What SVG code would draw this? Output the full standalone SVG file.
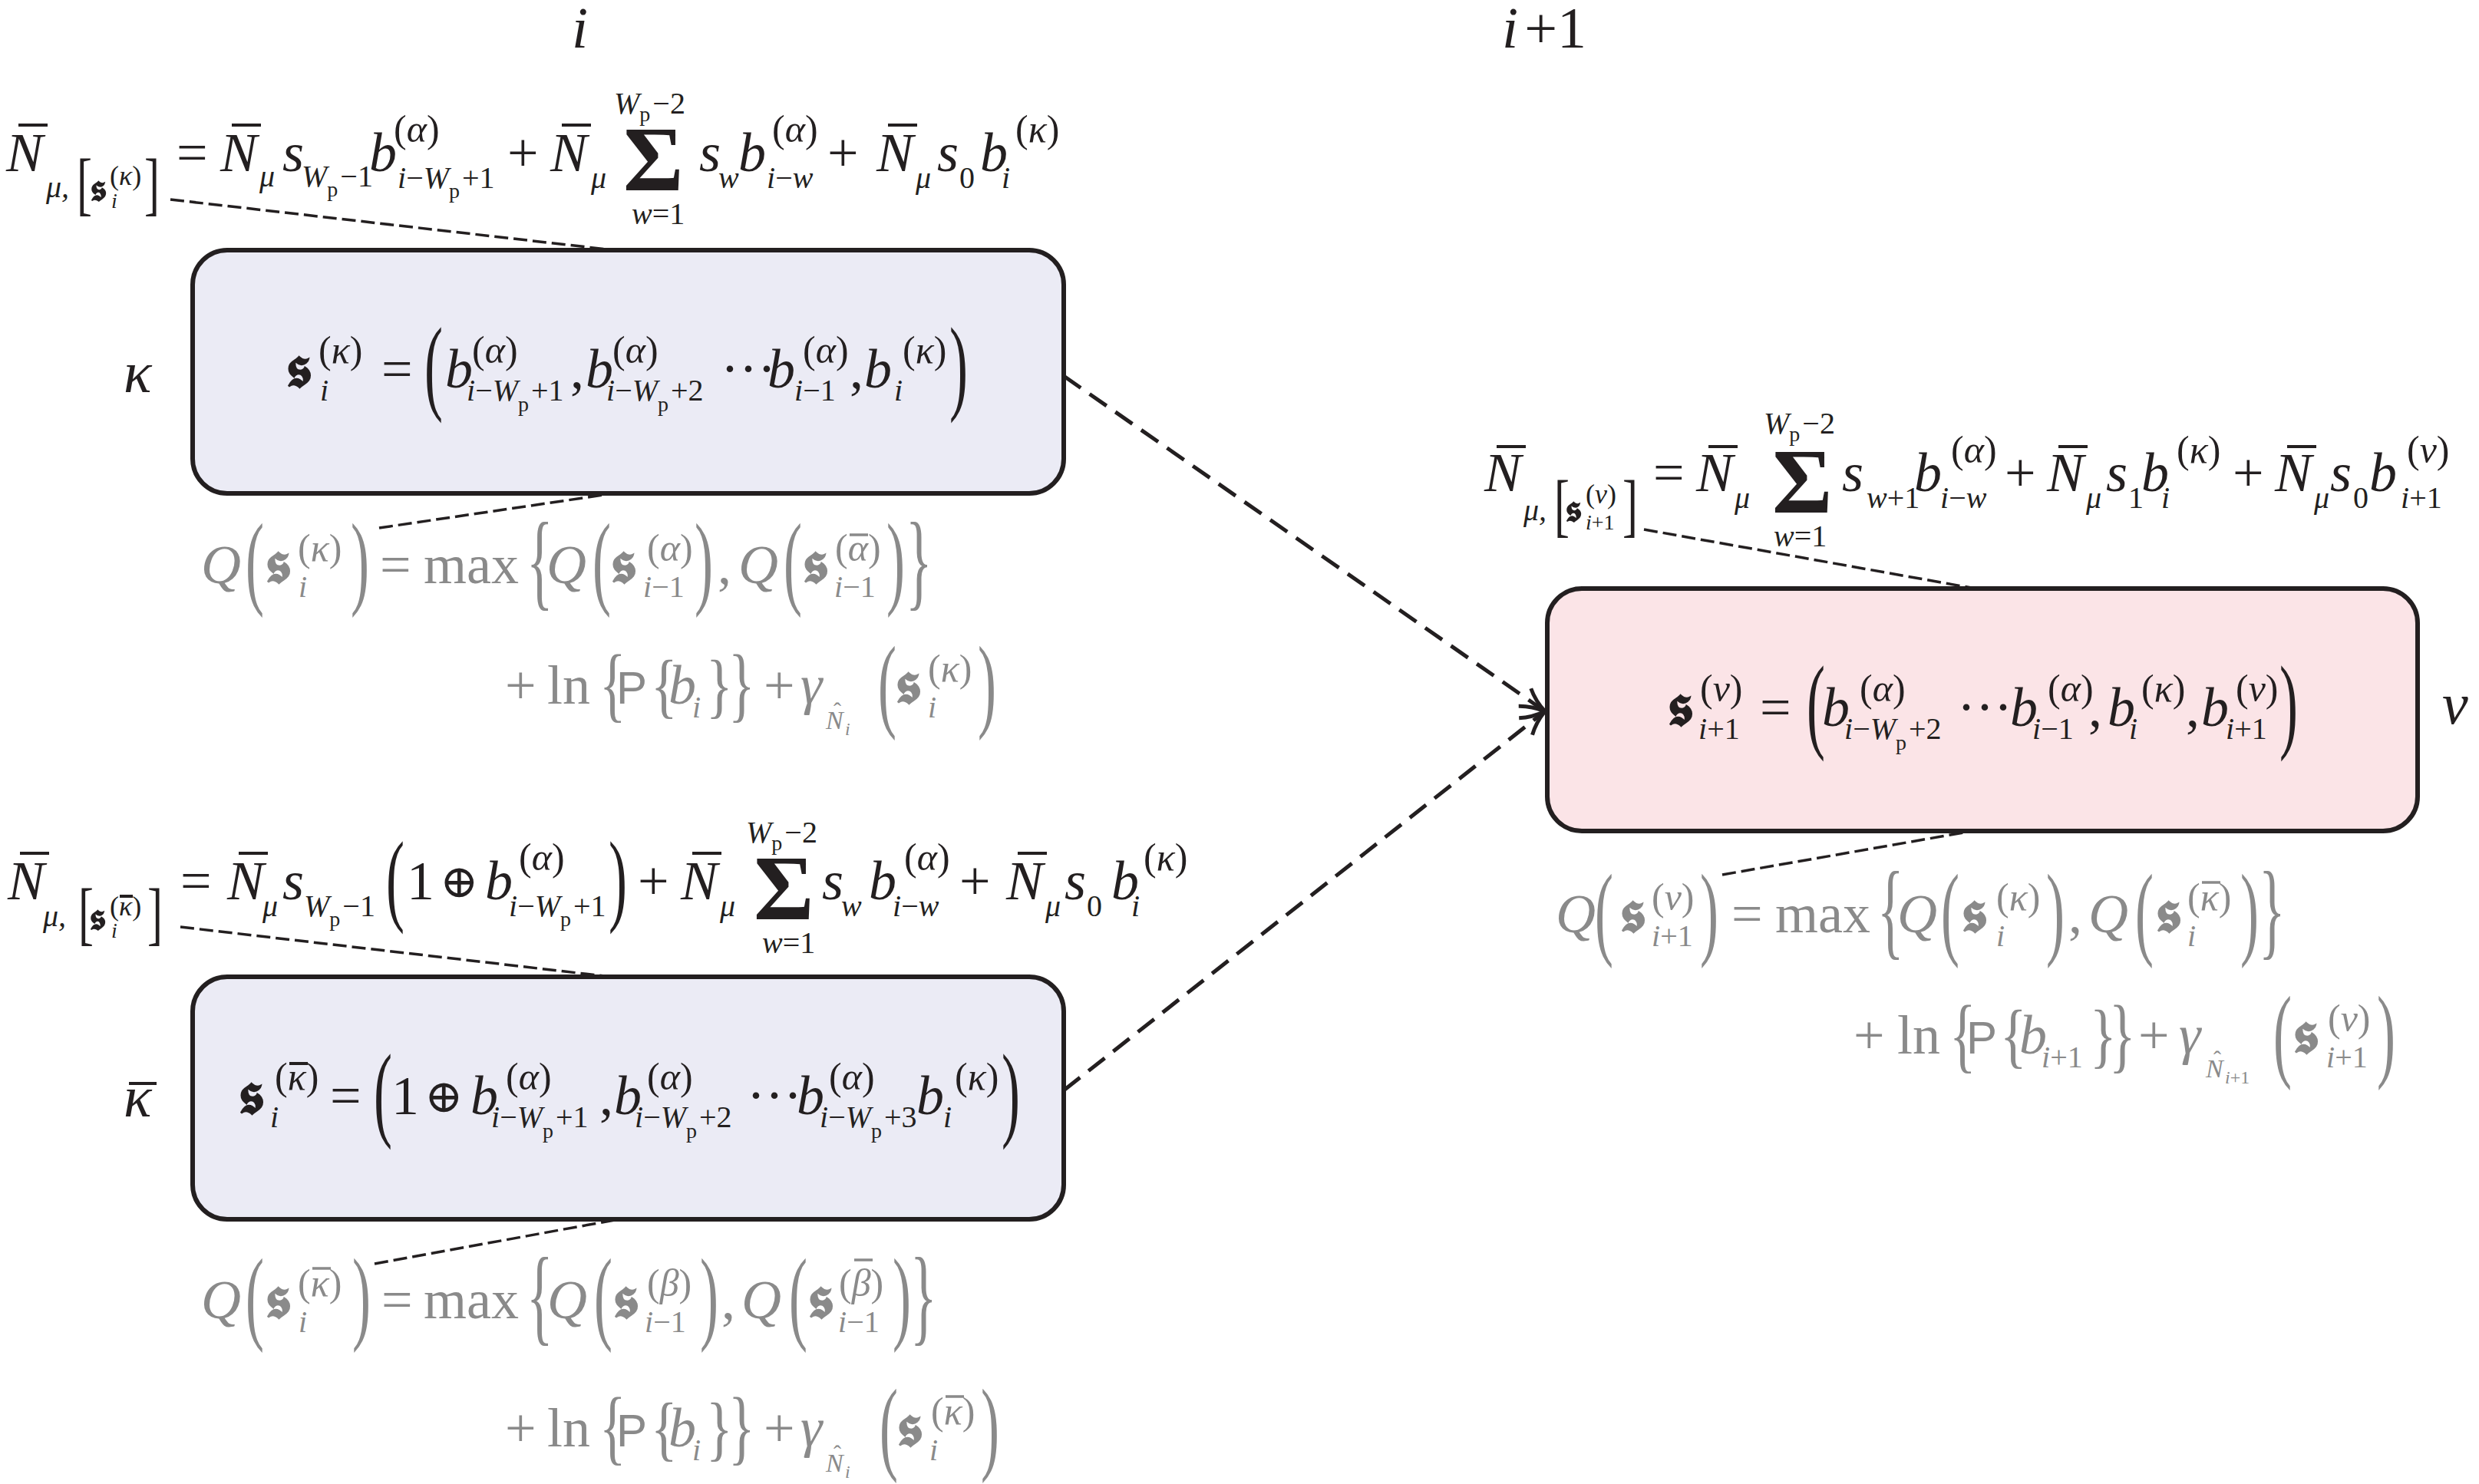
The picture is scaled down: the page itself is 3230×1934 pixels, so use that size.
<svg xmlns="http://www.w3.org/2000/svg" width="3230" height="1934" viewBox="0 0 3230 1934">
<defs>
<style>
.t{font-family:"Liberation Serif","DejaVu Serif",serif;fill:#231f20}
.g{fill:#8a8a8a}
.i{font-style:italic}
.L{font-size:72px}
.U{font-size:50px}
.S{font-size:40px}
.V{font-size:36px}
.T{font-size:28px}
.F{font-size:60px}
.H{font-size:76px}
.Z{font-size:120px;font-weight:bold}
.fr{font-family:"DejaVu Serif","DejaVu Sans","Noto Sans",serif;font-weight:bold}
.fM{font-size:78px}
.fS{font-size:50px}
.sf{font-family:"Liberation Sans",Arial,sans-serif}
.op{font-family:"DejaVu Serif","DejaVu Sans",serif;font-size:60px}
.bar{stroke:#231f20;stroke-width:4}
.gbar{stroke:#8a8a8a;stroke-width:3.5}
.box{stroke:#231f20;stroke-width:6}
.bA{fill:#ebebf5}
.bB{fill:#fbe4e7}
.ann{fill:none;stroke:#231f20;stroke-width:3.5;stroke-dasharray:18 7}
.arr{fill:none;stroke:#231f20;stroke-width:5;stroke-dasharray:27 14}
</style>
<marker id="ah" markerUnits="userSpaceOnUse" markerWidth="44" markerHeight="44" refX="38" refY="22" orient="auto">
<path d="M6,8 Q20,18 38,22 Q20,26 6,36" fill="none" stroke="#231f20" stroke-width="5" stroke-dasharray="none"/>
</marker>
</defs>
<rect width="3230" height="1934" fill="#ffffff"/>

<g id="headers" class="t">
<text x="745" y="62" class="H i">i</text>
<text x="1957" y="62" class="H"><tspan class="i">i</tspan><tspan dx="8">+1</tspan></text>
</g>

<g id="connectors">
<line x1="1386" y1="490" x2="2013" y2="927" class="arr" marker-end="url(#ah)"/>
<line x1="1386" y1="1421" x2="2013" y2="927" class="arr" marker-end="url(#ah)"/>
<line x1="222" y1="260" x2="800" y2="326" class="ann"/>
<line x1="494" y1="688" x2="800" y2="643" class="ann"/>
<line x1="235" y1="1208" x2="796" y2="1273" class="ann"/>
<line x1="488" y1="1647" x2="806" y2="1589" class="ann"/>
<line x1="2142" y1="690" x2="2574" y2="767" class="ann"/>
<line x1="2244" y1="1140" x2="2570" y2="1083" class="ann"/>
</g>

<g id="node-kappa" class="t">
<rect x="251" y="326" width="1135" height="317" rx="45" class="box bA"/>
<text x="161" y="511" class="H i">κ</text>
<text transform="translate(553,522) scale(1,1.9)" class="L">(</text>
<text transform="translate(1237,522) scale(1,1.9)" class="L">)</text>
<text><tspan x="372" y="505" class="fr fM">𝖘</tspan><tspan x="415" y="473" class="U">(<tspan class="i">κ</tspan>)</tspan><tspan x="417" y="522" class="S i">i</tspan><tspan x="497" y="505" class="L">=</tspan><tspan x="580" y="505" class="L i">b</tspan><tspan x="615" y="473" class="U">(<tspan class="i">α</tspan>)</tspan><tspan x="608" y="522" class="S"><tspan class="i">i</tspan>−<tspan class="i">W</tspan><tspan class="T" dy="14">p</tspan><tspan dy="-14" dx="3">+1</tspan></tspan><tspan x="743" y="505" class="L">,</tspan><tspan x="763" y="505" class="L i">b</tspan><tspan x="798" y="473" class="U">(<tspan class="i">α</tspan>)</tspan><tspan x="790" y="522" class="S"><tspan class="i">i</tspan>−<tspan class="i">W</tspan><tspan class="T" dy="14">p</tspan><tspan dy="-14" dx="3">+2</tspan></tspan><tspan x="939" y="505" class="L">···</tspan><tspan x="1000" y="505" class="L i">b</tspan><tspan x="1046" y="473" class="U">(<tspan class="i">α</tspan>)</tspan><tspan x="1035" y="522" class="S"><tspan class="i">i</tspan>−1</tspan><tspan x="1107" y="505" class="L">,</tspan><tspan x="1126" y="505" class="L i">b</tspan><tspan x="1176" y="473" class="U">(<tspan class="i">κ</tspan>)</tspan><tspan x="1165" y="522" class="S i">i</tspan></text>
</g>

<g id="node-kappabar" class="t">
<rect x="251" y="1273" width="1135" height="316" rx="45" class="box bA"/>
<text x="161" y="1455" class="H i">κ</text>
<line x1="168" y1="1412" x2="204" y2="1412" class="bar"/>
<line x1="377" y1="1386" x2="401" y2="1386" class="bar" stroke-width="3"/>
<text transform="translate(487,1469) scale(1,1.9)" class="L">(</text>
<text transform="translate(1305,1469) scale(1,1.9)" class="L">)</text>
<text><tspan x="310" y="1452" class="fr fM">𝖘</tspan><tspan x="358" y="1420" class="U">(<tspan class="i">κ</tspan>)</tspan><tspan x="352" y="1469" class="S i">i</tspan><tspan x="430" y="1452" class="L">=</tspan><tspan x="510" y="1452" class="L">1</tspan><tspan x="553" y="1449" class="op">⊕</tspan><tspan x="613" y="1452" class="L i">b</tspan><tspan x="659" y="1420" class="U">(<tspan class="i">α</tspan>)</tspan><tspan x="640" y="1469" class="S"><tspan class="i">i</tspan>−<tspan class="i">W</tspan><tspan class="T" dy="14">p</tspan><tspan dy="-14" dx="3">+1</tspan></tspan><tspan x="781" y="1452" class="L">,</tspan><tspan x="800" y="1452" class="L i">b</tspan><tspan x="843" y="1420" class="U">(<tspan class="i">α</tspan>)</tspan><tspan x="827" y="1469" class="S"><tspan class="i">i</tspan>−<tspan class="i">W</tspan><tspan class="T" dy="14">p</tspan><tspan dy="-14" dx="3">+2</tspan></tspan><tspan x="973" y="1452" class="L">···</tspan><tspan x="1038" y="1452" class="L i">b</tspan><tspan x="1080" y="1420" class="U">(<tspan class="i">α</tspan>)</tspan><tspan x="1068" y="1469" class="S"><tspan class="i">i</tspan>−<tspan class="i">W</tspan><tspan class="T" dy="14">p</tspan><tspan dy="-14" dx="3">+3</tspan></tspan><tspan x="1194" y="1452" class="L i">b</tspan><tspan x="1244" y="1420" class="U">(<tspan class="i">κ</tspan>)</tspan><tspan x="1229" y="1469" class="S i">i</tspan></text>
</g>

<g id="node-nu" class="t">
<rect x="2016" y="767" width="1134" height="316" rx="45" class="box bB"/>
<text x="3182" y="943" class="H i">ν</text>
<text transform="translate(2354,963) scale(1,1.9)" class="L">(</text>
<text transform="translate(2970,963) scale(1,1.9)" class="L">)</text>
<text><tspan x="2172" y="946" class="fr fM">𝖘</tspan><tspan x="2215" y="914" class="U">(<tspan class="i">ν</tspan>)</tspan><tspan x="2213" y="963" class="S"><tspan class="i">i</tspan>+1</tspan><tspan x="2293" y="946" class="L">=</tspan><tspan x="2374" y="946" class="L i">b</tspan><tspan x="2423" y="914" class="U">(<tspan class="i">α</tspan>)</tspan><tspan x="2403" y="963" class="S"><tspan class="i">i</tspan>−<tspan class="i">W</tspan><tspan class="T" dy="14">p</tspan><tspan dy="-14" dx="3">+2</tspan></tspan><tspan x="2550" y="946" class="L">···</tspan><tspan x="2619" y="946" class="L i">b</tspan><tspan x="2668" y="914" class="U">(<tspan class="i">α</tspan>)</tspan><tspan x="2648" y="963" class="S"><tspan class="i">i</tspan>−1</tspan><tspan x="2721" y="946" class="L">,</tspan><tspan x="2746" y="946" class="L i">b</tspan><tspan x="2790" y="914" class="U">(<tspan class="i">κ</tspan>)</tspan><tspan x="2774" y="963" class="S i">i</tspan><tspan x="2848" y="946" class="L">,</tspan><tspan x="2868" y="946" class="L i">b</tspan><tspan x="2913" y="914" class="U">(<tspan class="i">ν</tspan>)</tspan><tspan x="2900" y="963" class="S"><tspan class="i">i</tspan>+1</tspan></text>
</g>

<g id="eq-N-kappa" class="t">
<line x1="24" y1="163" x2="62" y2="163" class="bar"/>
<line x1="302" y1="163" x2="340" y2="163" class="bar"/>
<line x1="732" y1="163" x2="770" y2="163" class="bar"/>
<line x1="1157" y1="163" x2="1195" y2="163" class="bar"/>
<text class="F" transform="translate(100,270) scale(1,1.5)">[</text>
<text class="F" transform="translate(188,270) scale(1,1.5)">]</text>
<text><tspan x="8" y="223" class="L i">N</tspan><tspan x="60" y="257" class="S i">μ,</tspan><tspan x="117" y="262" class="fr fS">𝖘</tspan><tspan x="143" y="241" class="V">(<tspan class="i">κ</tspan>)</tspan><tspan x="145" y="271" class="T i">i</tspan><tspan x="230" y="223" class="L">=</tspan><tspan x="287" y="223" class="L i">N</tspan><tspan x="338" y="243" class="S i">μ</tspan><tspan x="368" y="223" class="L i">s</tspan><tspan x="393" y="243" class="S"><tspan class="i">W</tspan><tspan class="T" dy="13">p</tspan><tspan dy="-13" dx="3">−1</tspan></tspan><tspan x="481" y="223" class="L i">b</tspan><tspan x="513" y="185" class="U">(<tspan class="i">α</tspan>)</tspan><tspan x="518" y="245" class="S"><tspan class="i">i</tspan>−<tspan class="i">W</tspan><tspan class="T" dy="13">p</tspan><tspan dy="-13" dx="3">+1</tspan></tspan><tspan x="661" y="223" class="L">+</tspan><tspan x="717" y="223" class="L i">N</tspan><tspan x="770" y="245" class="S i">μ</tspan><tspan x="812" y="248" class="Z">Σ</tspan><tspan x="800" y="148" class="S"><tspan class="i">W</tspan><tspan class="T" dy="10">p</tspan><tspan dy="-10" dx="3">−2</tspan></tspan><tspan x="823" y="292" class="S"><tspan class="i">w</tspan>=1</tspan><tspan x="911" y="223" class="L i">s</tspan><tspan x="936" y="245" class="S i">w</tspan><tspan x="962" y="223" class="L i">b</tspan><tspan x="1006" y="185" class="U">(<tspan class="i">α</tspan>)</tspan><tspan x="999" y="245" class="S"><tspan class="i">i</tspan>−<tspan class="i">w</tspan></tspan><tspan x="1078" y="223" class="L">+</tspan><tspan x="1142" y="223" class="L i">N</tspan><tspan x="1193" y="245" class="S i">μ</tspan><tspan x="1221" y="223" class="L i">s</tspan><tspan x="1250" y="245" class="S">0</tspan><tspan x="1277" y="223" class="L i">b</tspan><tspan x="1323" y="185" class="U">(<tspan class="i">κ</tspan>)</tspan><tspan x="1305" y="245" class="S i">i</tspan></text>
</g>

<g id="eq-N-kappabar" class="t">
<line x1="26" y1="1112" x2="64" y2="1112" class="bar"/>
<line x1="156" y1="1168" x2="173" y2="1168" class="bar" stroke-width="2.5"/>
<line x1="311" y1="1112" x2="349" y2="1112" class="bar"/>
<line x1="902" y1="1112" x2="940" y2="1112" class="bar"/>
<line x1="1326" y1="1112" x2="1364" y2="1112" class="bar"/>
<text class="F" transform="translate(102,1221) scale(1,1.5)">[</text>
<text class="F" transform="translate(192,1221) scale(1,1.5)">]</text>
<text transform="translate(503,1189) scale(1,1.85)" class="L">(</text>
<text transform="translate(793,1189) scale(1,1.85)" class="L">)</text>
<text><tspan x="10" y="1172" class="L i">N</tspan><tspan x="56" y="1207" class="S i">μ,</tspan><tspan x="116" y="1212" class="fr fS">𝖘</tspan><tspan x="143" y="1193" class="V">(<tspan class="i">κ</tspan>)</tspan><tspan x="145" y="1222" class="T i">i</tspan><tspan x="235" y="1172" class="L">=</tspan><tspan x="296" y="1172" class="L i">N</tspan><tspan x="342" y="1194" class="S i">μ</tspan><tspan x="368" y="1172" class="L i">s</tspan><tspan x="396" y="1194" class="S"><tspan class="i">W</tspan><tspan class="T" dy="13">p</tspan><tspan dy="-13" dx="3">−1</tspan></tspan><tspan x="530" y="1172" class="L">1</tspan><tspan x="573" y="1169" class="op">⊕</tspan><tspan x="632" y="1172" class="L i">b</tspan><tspan x="676" y="1134" class="U">(<tspan class="i">α</tspan>)</tspan><tspan x="663" y="1194" class="S"><tspan class="i">i</tspan>−<tspan class="i">W</tspan><tspan class="T" dy="13">p</tspan><tspan dy="-13" dx="3">+1</tspan></tspan><tspan x="831" y="1172" class="L">+</tspan><tspan x="887" y="1172" class="L i">N</tspan><tspan x="938" y="1194" class="S i">μ</tspan><tspan x="982" y="1198" class="Z">Σ</tspan><tspan x="972" y="1098" class="S"><tspan class="i">W</tspan><tspan class="T" dy="10">p</tspan><tspan dy="-10" dx="3">−2</tspan></tspan><tspan x="993" y="1242" class="S"><tspan class="i">w</tspan>=1</tspan><tspan x="1071" y="1172" class="L i">s</tspan><tspan x="1096" y="1194" class="S i">w</tspan><tspan x="1132" y="1172" class="L i">b</tspan><tspan x="1178" y="1134" class="U">(<tspan class="i">α</tspan>)</tspan><tspan x="1163" y="1194" class="S"><tspan class="i">i</tspan>−<tspan class="i">w</tspan></tspan><tspan x="1250" y="1172" class="L">+</tspan><tspan x="1311" y="1172" class="L i">N</tspan><tspan x="1362" y="1194" class="S i">μ</tspan><tspan x="1387" y="1172" class="L i">s</tspan><tspan x="1416" y="1194" class="S">0</tspan><tspan x="1448" y="1172" class="L i">b</tspan><tspan x="1490" y="1134" class="U">(<tspan class="i">κ</tspan>)</tspan><tspan x="1474" y="1194" class="S i">i</tspan></text>
</g>

<g id="eq-N-nu" class="t">
<line x1="1950" y1="582" x2="1988" y2="582" class="bar"/>
<line x1="2226" y1="582" x2="2264" y2="582" class="bar"/>
<line x1="2682" y1="582" x2="2720" y2="582" class="bar"/>
<line x1="2980" y1="582" x2="3018" y2="582" class="bar"/>
<text class="F" transform="translate(2025,689) scale(1,1.5)">[</text>
<text class="F" transform="translate(2114,689) scale(1,1.5)">]</text>
<text><tspan x="1934" y="640" class="L i">N</tspan><tspan x="1985" y="678" class="S i">μ,</tspan><tspan x="2039" y="680" class="fr fS">𝖘</tspan><tspan x="2066" y="656" class="V">(<tspan class="i">ν</tspan>)</tspan><tspan x="2066" y="690" class="T"><tspan class="i">i</tspan>+1</tspan><tspan x="2154" y="640" class="L">=</tspan><tspan x="2210" y="640" class="L i">N</tspan><tspan x="2260" y="662" class="S i">μ</tspan><tspan x="2309" y="668" class="Z">Σ</tspan><tspan x="2298" y="565" class="S"><tspan class="i">W</tspan><tspan class="T" dy="10">p</tspan><tspan dy="-10" dx="3">−2</tspan></tspan><tspan x="2311" y="712" class="S"><tspan class="i">w</tspan>=1</tspan><tspan x="2400" y="640" class="L i">s</tspan><tspan x="2432" y="662" class="S"><tspan class="i">w</tspan>+1</tspan><tspan x="2494" y="640" class="L i">b</tspan><tspan x="2542" y="603" class="U">(<tspan class="i">α</tspan>)</tspan><tspan x="2528" y="662" class="S"><tspan class="i">i</tspan>−<tspan class="i">w</tspan></tspan><tspan x="2612" y="640" class="L">+</tspan><tspan x="2667" y="640" class="L i">N</tspan><tspan x="2718" y="662" class="S i">μ</tspan><tspan x="2744" y="640" class="L i">s</tspan><tspan x="2773" y="662" class="S">1</tspan><tspan x="2790" y="640" class="L i">b</tspan><tspan x="2836" y="603" class="U">(<tspan class="i">κ</tspan>)</tspan><tspan x="2816" y="662" class="S i">i</tspan><tspan x="2909" y="640" class="L">+</tspan><tspan x="2964" y="640" class="L i">N</tspan><tspan x="3015" y="662" class="S i">μ</tspan><tspan x="3036" y="640" class="L i">s</tspan><tspan x="3066" y="662" class="S">0</tspan><tspan x="3087" y="640" class="L i">b</tspan><tspan x="3136" y="603" class="U">(<tspan class="i">ν</tspan>)</tspan><tspan x="3128" y="662" class="S"><tspan class="i">i</tspan>+1</tspan></text>
</g>

<g id="eq-Q-kappa" class="t g">
<line x1="1107" y1="697" x2="1131" y2="697" class="gbar"/>
<text transform="translate(320,776) scale(1,1.88)" class="L">(</text>
<text transform="translate(457,776) scale(1,1.88)" class="L">)</text>
<text transform="translate(686,777) scale(1,1.95)" class="L">{</text>
<text transform="translate(772,776) scale(1,1.88)" class="L">(</text>
<text transform="translate(905,776) scale(1,1.88)" class="L">)</text>
<text transform="translate(1021,776) scale(1,1.88)" class="L">(</text>
<text transform="translate(1155,776) scale(1,1.88)" class="L">)</text>
<text transform="translate(1180,777) scale(1,1.95)" class="L">}</text>
<text transform="translate(781,928) scale(1,1.5)" class="L">{</text>
<text transform="translate(848,925) scale(1,1.3)" class="L">{</text>
<text transform="translate(920,925) scale(1,1.3)" class="L">}</text>
<text transform="translate(949,928) scale(1,1.5)" class="L">}</text>
<text transform="translate(1144,936) scale(1,1.88)" class="L">(</text>
<text transform="translate(1274,936) scale(1,1.88)" class="L">)</text>
<text><tspan x="262" y="760" class="L i">Q</tspan><tspan x="345" y="760" class="fr fM">𝖘</tspan><tspan x="388" y="731" class="U">(<tspan class="i">κ</tspan>)</tspan><tspan x="389" y="778" class="S i">i</tspan><tspan x="495" y="760" class="L">=</tspan><tspan x="552" y="760" class="L">max</tspan><tspan x="712" y="760" class="L i">Q</tspan><tspan x="795" y="760" class="fr fM">𝖘</tspan><tspan x="843" y="731" class="U">(<tspan class="i">α</tspan>)</tspan><tspan x="838" y="778" class="S"><tspan class="i">i</tspan>−1</tspan><tspan x="935" y="760" class="L">,</tspan><tspan x="962" y="760" class="L i">Q</tspan><tspan x="1045" y="760" class="fr fM">𝖘</tspan><tspan x="1088" y="731" class="U">(<tspan class="i">α</tspan>)</tspan><tspan x="1087" y="778" class="S"><tspan class="i">i</tspan>−1</tspan><tspan x="658" y="917" class="L">+</tspan><tspan x="713" y="917" class="L">ln</tspan><tspan x="803" y="917" class="sf F">P</tspan><tspan x="871" y="917" class="L i">b</tspan><tspan x="902" y="935" class="S i">i</tspan><tspan x="995" y="917" class="L">+</tspan><tspan x="1043" y="917" class="L i">γ</tspan><tspan x="1076" y="950" class="i" font-size="34">N</tspan><tspan x="1086" y="936" font-size="30">ˆ</tspan><tspan x="1101" y="958" class="i" font-size="24">i</tspan><tspan x="1166" y="917" class="fr fM">𝖘</tspan><tspan x="1209" y="888" class="U">(<tspan class="i">κ</tspan>)</tspan><tspan x="1209" y="935" class="S i">i</tspan></text>
</g>

<g id="eq-Q-kappabar" class="t g">
<line x1="407" y1="1653" x2="431" y2="1653" class="gbar"/>
<line x1="1113" y1="1642" x2="1137" y2="1642" class="gbar"/>
<line x1="1232" y1="1820" x2="1256" y2="1820" class="gbar"/>
<text transform="translate(320,1734) scale(1,1.88)" class="L">(</text>
<text transform="translate(459,1734) scale(1,1.88)" class="L">)</text>
<text transform="translate(686,1735) scale(1,1.95)" class="L">{</text>
<text transform="translate(774,1734) scale(1,1.88)" class="L">(</text>
<text transform="translate(912,1734) scale(1,1.88)" class="L">)</text>
<text transform="translate(1028,1734) scale(1,1.88)" class="L">(</text>
<text transform="translate(1163,1734) scale(1,1.88)" class="L">)</text>
<text transform="translate(1186,1735) scale(1,1.95)" class="L">}</text>
<text transform="translate(781,1896) scale(1,1.5)" class="L">{</text>
<text transform="translate(848,1893) scale(1,1.3)" class="L">{</text>
<text transform="translate(920,1893) scale(1,1.3)" class="L">}</text>
<text transform="translate(949,1896) scale(1,1.5)" class="L">}</text>
<text transform="translate(1146,1904) scale(1,1.88)" class="L">(</text>
<text transform="translate(1278,1904) scale(1,1.88)" class="L">)</text>
<text><tspan x="262" y="1718" class="L i">Q</tspan><tspan x="345" y="1718" class="fr fM">𝖘</tspan><tspan x="388" y="1689" class="U">(<tspan class="i">κ</tspan>)</tspan><tspan x="389" y="1736" class="S i">i</tspan><tspan x="497" y="1718" class="L">=</tspan><tspan x="552" y="1718" class="L">max</tspan><tspan x="713" y="1718" class="L i">Q</tspan><tspan x="798" y="1718" class="fr fM">𝖘</tspan><tspan x="843" y="1689" class="U">(<tspan class="i">β</tspan>)</tspan><tspan x="840" y="1736" class="S"><tspan class="i">i</tspan>−1</tspan><tspan x="940" y="1718" class="L">,</tspan><tspan x="966" y="1718" class="L i">Q</tspan><tspan x="1052" y="1718" class="fr fM">𝖘</tspan><tspan x="1093" y="1689" class="U">(<tspan class="i">β</tspan>)</tspan><tspan x="1092" y="1736" class="S"><tspan class="i">i</tspan>−1</tspan><tspan x="658" y="1885" class="L">+</tspan><tspan x="713" y="1885" class="L">ln</tspan><tspan x="803" y="1885" class="sf F">P</tspan><tspan x="871" y="1885" class="L i">b</tspan><tspan x="902" y="1903" class="S i">i</tspan><tspan x="995" y="1885" class="L">+</tspan><tspan x="1043" y="1885" class="L i">γ</tspan><tspan x="1076" y="1918" class="i" font-size="34">N</tspan><tspan x="1086" y="1904" font-size="30">ˆ</tspan><tspan x="1101" y="1926" class="i" font-size="24">i</tspan><tspan x="1168" y="1885" class="fr fM">𝖘</tspan><tspan x="1213" y="1856" class="U">(<tspan class="i">κ</tspan>)</tspan><tspan x="1211" y="1903" class="S i">i</tspan></text>
</g>

<g id="eq-Q-nu" class="t g">
<line x1="2869" y1="1150" x2="2893" y2="1150" class="gbar"/>
<text transform="translate(2078,1233) scale(1,1.88)" class="L">(</text>
<text transform="translate(2215,1233) scale(1,1.88)" class="L">)</text>
<text transform="translate(2446,1232) scale(1,1.95)" class="L">{</text>
<text transform="translate(2529,1233) scale(1,1.88)" class="L">(</text>
<text transform="translate(2666,1233) scale(1,1.88)" class="L">)</text>
<text transform="translate(2782,1233) scale(1,1.88)" class="L">(</text>
<text transform="translate(2919,1233) scale(1,1.88)" class="L">)</text>
<text transform="translate(2943,1232) scale(1,1.95)" class="L">}</text>
<text transform="translate(2540,1385) scale(1,1.5)" class="L">{</text>
<text transform="translate(2606,1381) scale(1,1.3)" class="L">{</text>
<text transform="translate(2723,1381) scale(1,1.3)" class="L">}</text>
<text transform="translate(2748,1385) scale(1,1.5)" class="L">}</text>
<text transform="translate(2962,1392) scale(1,1.88)" class="L">(</text>
<text transform="translate(3097,1392) scale(1,1.88)" class="L">)</text>
<text><tspan x="2027" y="1215" class="L i">Q</tspan><tspan x="2110" y="1215" class="fr fM">𝖘</tspan><tspan x="2152" y="1186" class="U">(<tspan class="i">ν</tspan>)</tspan><tspan x="2152" y="1233" class="S"><tspan class="i">i</tspan>+1</tspan><tspan x="2256" y="1215" class="L">=</tspan><tspan x="2313" y="1215" class="L">max</tspan><tspan x="2472" y="1215" class="L i">Q</tspan><tspan x="2555" y="1215" class="fr fM">𝖘</tspan><tspan x="2601" y="1186" class="U">(<tspan class="i">κ</tspan>)</tspan><tspan x="2601" y="1233" class="S i">i</tspan><tspan x="2695" y="1215" class="L">,</tspan><tspan x="2721" y="1215" class="L i">Q</tspan><tspan x="2808" y="1215" class="fr fM">𝖘</tspan><tspan x="2850" y="1186" class="U">(<tspan class="i">κ</tspan>)</tspan><tspan x="2850" y="1233" class="S i">i</tspan><tspan x="2415" y="1373" class="L">+</tspan><tspan x="2472" y="1373" class="L">ln</tspan><tspan x="2562" y="1373" class="sf F">P</tspan><tspan x="2631" y="1373" class="L i">b</tspan><tspan x="2660" y="1391" class="S"><tspan class="i">i</tspan>+1</tspan><tspan x="2786" y="1373" class="L">+</tspan><tspan x="2839" y="1373" class="L i">γ</tspan><tspan x="2874" y="1404" class="i" font-size="34">N</tspan><tspan x="2884" y="1390" font-size="30">ˆ</tspan><tspan x="2899" y="1412" font-size="24"><tspan class="i">i</tspan>+1</tspan><tspan x="2987" y="1373" class="fr fM">𝖘</tspan><tspan x="3033" y="1344" class="U">(<tspan class="i">ν</tspan>)</tspan><tspan x="3031" y="1391" class="S"><tspan class="i">i</tspan>+1</tspan></text>
</g>
</svg>
